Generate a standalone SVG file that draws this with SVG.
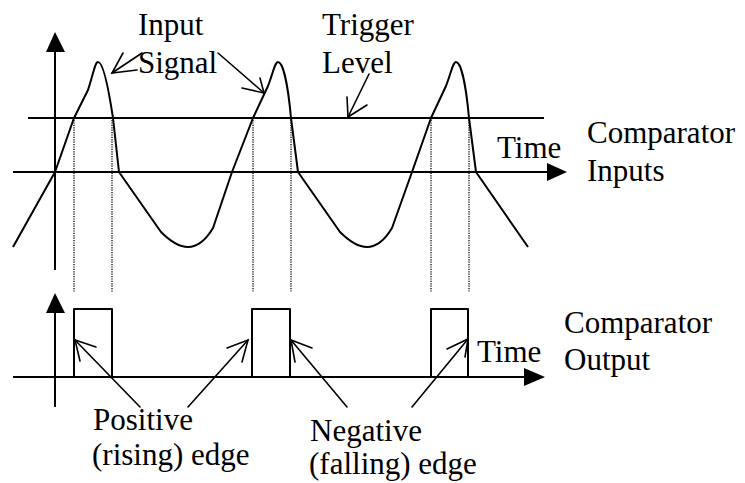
<svg xmlns="http://www.w3.org/2000/svg" width="745" height="483" viewBox="0 0 745 483">
<style>
.ln{stroke:#000;stroke-width:2;fill:none;stroke-linejoin:round}
.an{stroke:#000;stroke-width:1.6;fill:none;stroke-linecap:round}
.dt{stroke:#000;stroke-width:1.3;stroke-dasharray:1.2 1.2;fill:none}
.ah{fill:#000}
</style>
<rect width="745" height="483" fill="#fff"/>
<g id="top-axes">
<line class="ln" x1="55" y1="45" x2="55" y2="270"/>
<polygon class="ah" points="55,32 46,52 65,52"/>
<line class="ln" x1="13" y1="172" x2="550" y2="172"/>
<polygon class="ah" points="567,172 547,163 547,181"/>
</g>
<g id="trigger-level">
<line class="ln" x1="28" y1="118" x2="544" y2="118"/>
</g>
<g id="input-signal">
<path class="ln" d="M13,247 L55,172 L74,118 L88,90 C93,75 95,62 98,62 C103,62 108,85 113,118 L119,172 L161,232 C171,242 179,247 188,247 C199,247 207,238 213,228 L232,172 L253,118 L268,86 C273,73 275,62 278,62 C283,62 288,85 291,118 L298,172 L340,232 C350,242 358,247 367,247 C378,247 386,238 392,228 L412,172 L431,118 L446,86 C451,73 453,62 456,62 C461,62 466,85 469,118 L476,172 L528,247"/>
</g>
<g id="dotted-guides">
<line class="dt" x1="74" y1="120" x2="74" y2="292"/>
<line class="dt" x1="112" y1="120" x2="112" y2="292"/>
<line class="dt" x1="253" y1="120" x2="253" y2="292"/>
<line class="dt" x1="291" y1="120" x2="291" y2="292"/>
<line class="dt" x1="431" y1="120" x2="431" y2="292"/>
<line class="dt" x1="469" y1="120" x2="469" y2="292"/>
</g>
<g id="bottom-axes">
<line class="ln" x1="55" y1="305" x2="55" y2="407"/>
<polygon class="ah" points="55,293 46,313 65,313"/>
<line class="ln" x1="13" y1="377" x2="528" y2="377"/>
<polygon class="ah" points="545,377 524,368 524,386"/>
</g>
<g id="comparator-output">
<polyline class="ln" points="74,377 74,309 112,309 112,377"/>
<polyline class="ln" points="252,377 252,309 290,309 290,377"/>
<polyline class="ln" points="431,377 431,309 468,309 468,377"/>
</g>
<g id="connectors">
<line class="an" x1="142" y1="53" x2="112" y2="73"/>
<polyline class="an" points="123,53 112,73 137,70"/>
<line class="an" x1="218" y1="53" x2="264" y2="93"/>
<polyline class="an" points="242,88 264,93 260,78"/>
<line class="an" x1="369" y1="74" x2="348" y2="117"/>
<polyline class="an" points="347,97 348,117 367,105"/>
<line class="an" x1="140" y1="407" x2="75" y2="340"/>
<polyline class="an" points="96,347 75,340 80,361"/>
<line class="an" x1="188" y1="407" x2="248" y2="340"/>
<polyline class="an" points="227,348 248,340 242,362"/>
<line class="an" x1="347" y1="407" x2="291" y2="340"/>
<polyline class="an" points="312,348 291,340 295,362"/>
<line class="an" x1="412" y1="407" x2="468" y2="339"/>
<polyline class="an" points="447,349 468,339 465,357"/>
</g>
<g id="labels" font-family="'Liberation Serif', 'Times New Roman', Times, serif" font-size="31" fill="#000">
<text x="138" y="35">Input</text>
<text x="138" y="73">Signal</text>
<text x="322" y="35">Trigger</text>
<text x="322" y="73">Level</text>
<text x="497" y="158">Time</text>
<text x="587" y="143">Comparator</text>
<text x="587" y="181">Inputs</text>
<text x="477" y="362">Time</text>
<text x="564" y="333">Comparator</text>
<text x="564" y="370">Output</text>
<text x="93" y="430">Positive</text>
<text x="92" y="465">(rising) edge</text>
<text x="310" y="441">Negative</text>
<text x="309" y="474">(falling) edge</text>
</g>
</svg>
